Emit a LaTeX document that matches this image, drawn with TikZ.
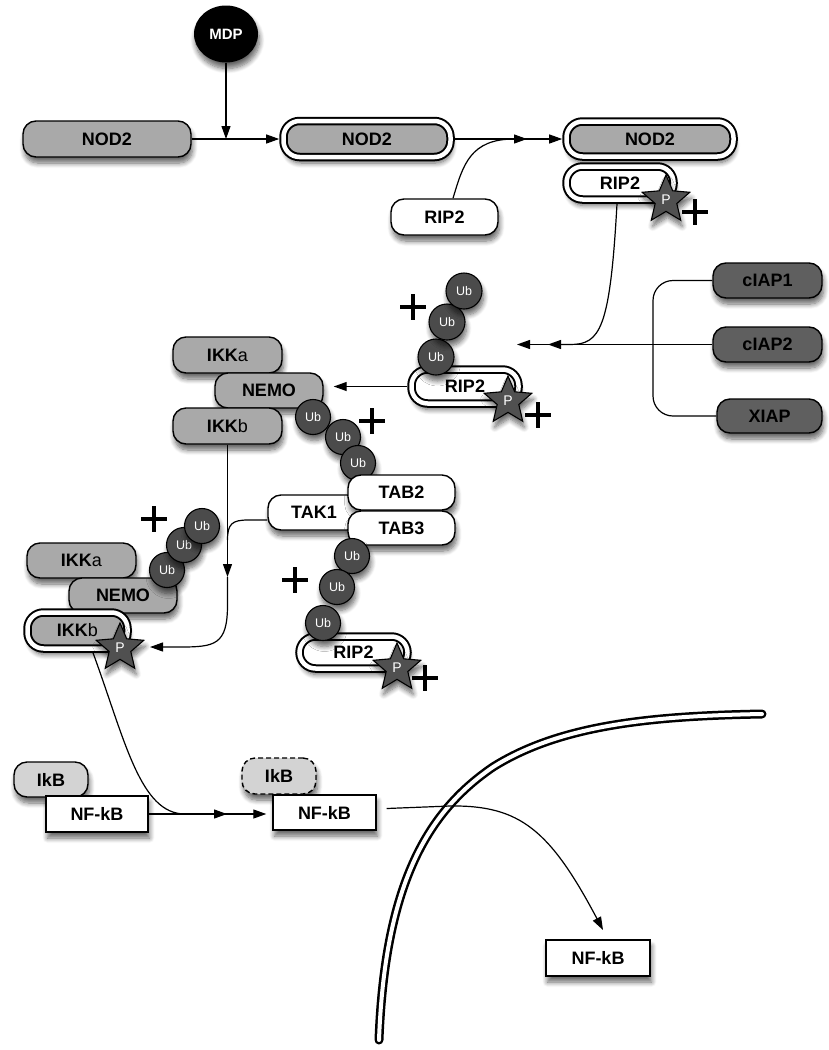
\documentclass[tikz,border=0pt]{standalone}
\usepackage{fontspec}
\setmainfont{Liberation Sans}
\usetikzlibrary{arrows.meta,shapes.geometric,shadows.blur}

\definecolor{protgray}{HTML}{A9A9A9}
\definecolor{iapgray}{HTML}{5F5F5F}
\definecolor{ubgray}{HTML}{4B4B4B}
\definecolor{stargray}{HTML}{505050}
\definecolor{ikbgray}{HTML}{D3D3D3}

\tikzset{
  softshadow/.style={blur shadow={shadow xshift=1.5pt, shadow yshift=-6pt,
      shadow opacity=60, shadow blur steps=8, shadow blur radius=5pt}},
  lbl/.style={font=\fontsize{18}{20}\selectfont\bfseries},
  box/.style={draw, line width=1.4pt, rounded corners=13pt, inner sep=0pt, lbl, softshadow},
  graybox/.style={box, fill=protgray},
  whitebox/.style={box, fill=white},
  iapbox/.style={box, fill=iapgray},
  rectbox/.style={box, rounded corners=0pt, fill=white},
  dblbox/.style={draw, line width=2pt, double=white, double distance=4.5pt,
      rounded corners=16pt, inner sep=0pt, outer sep=4.3pt, lbl, softshadow},
  ubead/.style={circle, draw, line width=1.1pt, fill=ubgray, minimum size=35pt,
      inner sep=0pt, text=white, font=\fontsize{12.5}{13}\selectfont, softshadow},
  phos/.style={star, star points=5, star point ratio=2.2, minimum size=50pt,
      inner sep=0pt, draw, line width=1.1pt, fill=stargray, text=white,
      font=\fontsize{14}{14}\selectfont, softshadow},
  link/.style={line width=1.2pt, -{Triangle[length=13pt,width=9pt]}},
  plain/.style={line width=1.2pt},
  plussign/.pic={\draw[line width=4.5pt] (-13,0) -- (13,0) (0,-13) -- (0,13);},
}

\begin{document}
\begin{tikzpicture}[x=1pt, y=-1pt]
\useasboundingbox (0,0) rectangle (828,1050);

% nuclear envelope
\draw[line width=2.5pt, double=white, double distance=4pt, line cap=round]
  (379,1040) .. controls (385,880) and (430,810) .. (493,767)
             .. controls (560,725) and (650,716) .. (762,714);

% ligand and receptor
\node[ellipse, fill=black, minimum width=64pt, minimum height=57pt, inner sep=0pt,
      text=white, font=\fontsize{15}{16}\selectfont\bfseries, softshadow] (mdp) at (226,34) {MDP};
\node[graybox, minimum width=168pt, minimum height=36pt] (nodA) at (107,139) {NOD2};
\node[dblbox, fill=protgray, minimum width=167pt, minimum height=36pt] (nodB) at (367,139) {NOD2};
\node[whitebox, minimum width=107pt, minimum height=36pt] (ripA) at (444.5,217) {RIP2};
\node[dblbox, fill=protgray, minimum width=167pt, minimum height=35pt] (nodC) at (650,139) {NOD2};
\node[dblbox, fill=white, minimum width=107pt, minimum height=33pt] (ripC) at (620,183) {RIP2};
\node[phos] (pC) at (666,200) {P};
\pic at (695,212) {plussign};

% IAP ligases
\node[iapbox, minimum width=109pt, minimum height=35pt] (ciap1) at (767.5,280.5) {cIAP1};
\node[iapbox, minimum width=109pt, minimum height=35pt] (ciap2) at (767.5,344.5) {cIAP2};
\node[iapbox, minimum width=105pt, minimum height=34pt] (xiap) at (769.5,416) {XIAP};

% ubiquitinated RIP2
\node[dblbox, fill=white, minimum width=107pt, minimum height=34pt] (ripD) at (465,386.5) {RIP2};
\node[phos] (pD) at (508,401) {P};
\pic at (538,415) {plussign};
\node[ubead, minimum size=36pt] (ubD1) at (436,357) {Ub};
\node[ubead, minimum size=36pt] (ubD2) at (447,322) {Ub};
\node[ubead, minimum size=36pt] (ubD3) at (464,291) {Ub};
\pic at (413,307) {plussign};

% IKK complex
\node[graybox, minimum width=109pt, minimum height=36pt] (ikka1) at (227.5,355) {IKK\mdseries a};
\node[graybox, minimum width=108pt, minimum height=35pt] (nemo1) at (269,390.5) {NEMO};
\node[graybox, minimum width=109pt, minimum height=36pt] (ikkb1) at (227.5,426) {IKK\mdseries b};
\node[ubead] (ubN1) at (313,417) {Ub};
\node[ubead] (ubN2) at (343,437) {Ub};
\node[ubead] (ubN3) at (358,463) {Ub};
\pic at (372,421) {plussign};

% TAK1 / TAB complex
\node[whitebox, minimum width=92pt, minimum height=35pt] (tak1) at (314,512.5) {TAK1};
\node[whitebox, minimum width=107pt, minimum height=35pt] (tab2) at (401.5,492.5) {TAB2};
\node[whitebox, minimum width=107pt, minimum height=34pt] (tab3) at (401.5,528) {TAB3};
\node[dblbox, fill=white, minimum width=108pt, minimum height=32pt] (ripE) at (353.5,652.5) {RIP2};
\node[phos] (pE) at (397,668) {P};
\pic at (425,678) {plussign};
\node[ubead] (ubT1) at (352,556) {Ub};
\node[ubead] (ubT2) at (337,587) {Ub};
\node[ubead] (ubT3) at (323,623) {Ub};
\pic at (295,580) {plussign};

% activated IKK complex
\node[graybox, minimum width=109pt, minimum height=35pt] (ikka2) at (81.5,560.5) {IKK\mdseries a};
\node[graybox, minimum width=108pt, minimum height=35pt] (nemo2) at (123,595.5) {NEMO};
\node[dblbox, fill=protgray, minimum width=100pt, minimum height=36pt] (ikkb2) at (77.5,630.5) {IKK\mdseries b};
\node[phos] (pI) at (120,648) {P};
\node[ubead] (ubI1) at (167,570) {Ub};
\node[ubead] (ubI2) at (184,545) {Ub};
\node[ubead] (ubI3) at (202,526) {Ub};
\pic at (154,519) {plussign};

% NF-kB
\node[box, fill=ikbgray, minimum width=74pt, minimum height=35pt] (ikbA) at (51,779.5) {IkB};
\node[rectbox, minimum width=102pt, minimum height=36pt] (nfkbA) at (97,814) {NF-kB};
\node[box, dash pattern=on 5pt off 3pt, fill=ikbgray, minimum width=74pt, minimum height=36pt] (ikbB) at (279,776) {IkB};
\node[rectbox, minimum width=103pt, minimum height=35pt] (nfkbB) at (324.5,812.5) {NF-kB};
\node[rectbox, minimum width=104pt, minimum height=36pt] (nfkbC) at (598,958) {NF-kB};

% connector ends
\coordinate (j1) at (226,139);
\coordinate (j2) at (527,139);
\coordinate (j3) at (548,344.5);
\coordinate (j4) at (517,344.5);
\coordinate (m1) at (227.5,577);
\coordinate (j5) at (150,647);
\coordinate (j6) at (227.5,540);
\coordinate (j7) at (227,814);
\coordinate (j8) at (603,930);

% connectors
\draw[link] (mdp) -- (j1);
\draw[link] (nodA) -- (nodB);
\draw[link] (nodB) -- (nodC);
\draw[link] ([xshift=8.5pt]ripA.north) .. controls (463,165) and (470,139) .. (j2);
\draw[link] ([xshift=-3pt]ripC.south) .. controls (610,330) and (600,344.5) .. (570,344.5) -- (j3);
\draw[link] (ciap2.west) -- (j4);
\draw[plain, rounded corners=20pt] (ciap1.west) -- (653,280.5) -- (653,416) -- (xiap.west);
\draw[link, shorten >=10pt] (ripD.west) -- (ripD.west -| nemo1.east);
\draw[link] (ikkb1.south) -- (m1);
\draw[link] (m1) -- (227.5,605) .. controls (227.5,645) and (215,647) .. (180,647) -- (j5);
\draw[plain] ([yshift=-7.5pt]tak1.west) -- (248,520) .. controls (232,520) and (227.5,524) .. (j6);
\draw[link] ([xshift=15.5pt]ikkb2.south) .. controls (125,740) and (140,814) .. (185,814) -- (j7);
\draw[link, shorten >=6pt] (nfkbA.east) -- (nfkbA.east -| nfkbB.west);
\draw[link] ([xshift=10pt, yshift=4pt]nfkbB.east) -- (450,806)
  .. controls (520,805) and (550,830) .. (j8);
\end{tikzpicture}
\end{document}
